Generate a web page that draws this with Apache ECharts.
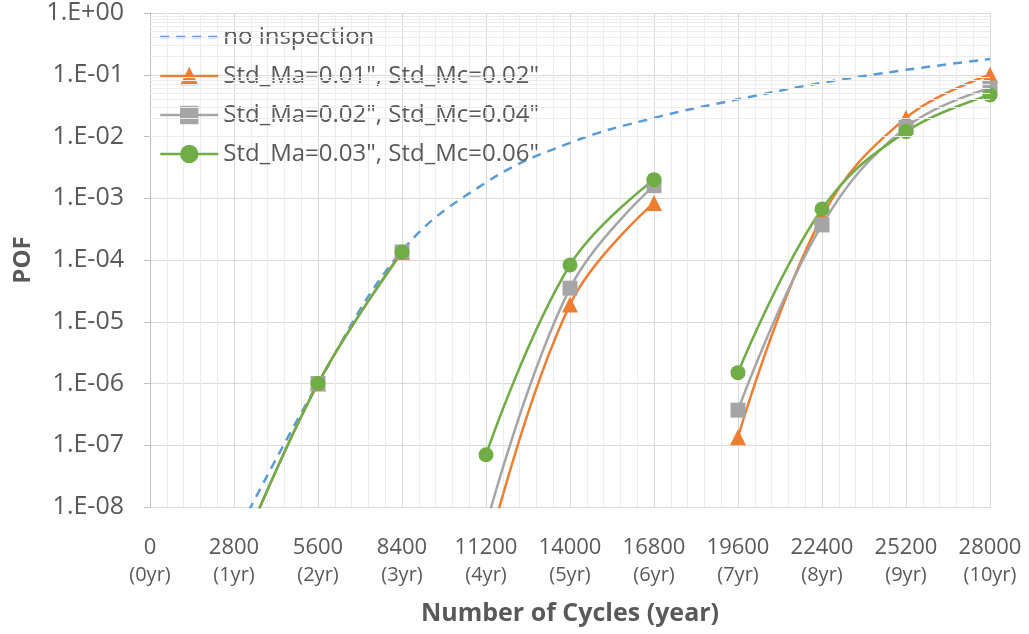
<!DOCTYPE html>
<html>
<head>
<meta charset="utf-8">
<script src="https://cdn.jsdelivr.net/npm/echarts@6/dist/echarts.min.js"></script>
<style>html,body{margin:0;padding:0;background:#fff;}#c{width:1029px;height:634px;}</style>
</head>
<body>
<div id="c"></div>
<script>
const cycles = [0, 2800, 5600, 8400, 11200, 14000, 16800, 19600, 22400, 25200, 28000];
const yearLabels = ['(0yr)', '(1yr)', '(2yr)', '(3yr)', '(4yr)', '(5yr)', '(6yr)', '(7yr)', '(8yr)', '(9yr)', '(10yr)'];
const seriesNames = ['no inspection', 'Std_Ma=0.01", Std_Mc=0.02"', 'Std_Ma=0.02", Std_Mc=0.04"', 'Std_Ma=0.03", Std_Mc=0.06"'];
const noInspection = [null, 3e-9, 1.0e-6, 1.4e-4, 1.8e-3, 7.9e-3, 2.0e-2, 4.0e-2, 7.4e-2, 1.2e-1, 1.8e-1];
const std001 = [null, 1e-9, 1.0e-6, 1.35e-4, 1.5e-9, 1.9e-5, 8.4e-4, 1.35e-7, 5.0e-4, 2.0e-2, 1.0e-1];
const std002 = [null, 1e-9, 1.0e-6, 1.35e-4, 5e-9, 3.5e-5, 1.6e-3, 3.7e-7, 3.7e-4, 1.4e-2, 6.1e-2];
const std003 = [null, 1e-9, 1.0e-6, 1.35e-4, 7e-8, 8.3e-5, 2.0e-3, 1.5e-6, 6.7e-4, 1.2e-2, 4.7e-2];
const inspectionBreaksAfter = [8400, 16800];
const minorLogValues = [];
for (let e = -8; e < 0; e++) { for (let m = 2; m <= 9; m++) minorLogValues.push(m * Math.pow(10, e)); }

function build(vals, breaks) {
  const out = [];
  cycles.forEach((c, i) => {
    if (vals[i] == null) return;
    out.push([c, vals[i]]);
    if (breaks.includes(c)) out.push([c + 1400, '-']);
  });
  return out;
}

const FONT = '"Open Sans", sans-serif';
const TXT = '#595959';
const chart = echarts.init(document.getElementById('c'));
chart.setOption({
  animation: false,
  backgroundColor: '#fff',
  grid: { left: 150, right: 39, top: 13, bottom: 127 },
  legend: {
    orient: 'vertical', left: 154, top: 20,
    itemWidth: 58, itemHeight: 23, itemGap: 15,
    lineStyle: { width: 2.5 },
    textStyle: { fontFamily: FONT, fontSize: 24, color: TXT },
    data: [
      { name: seriesNames[0], itemStyle: { color: 'rgba(0,0,0,0)', opacity: 0 }, lineStyle: { width: 2.5, type: [9, 7] } },
      seriesNames[1], seriesNames[2], seriesNames[3]
    ]
  },
  xAxis: {
    type: 'value', min: 0, max: 28000, interval: 2800,
    name: 'Number of Cycles (year)', nameLocation: 'middle', nameGap: 94,
    nameTextStyle: { fontFamily: FONT, fontSize: 25, fontWeight: 'bold', color: TXT },
    axisLine: { show: true, lineStyle: { color: '#d9d9d9' } },
    axisTick: { show: false },
    axisLabel: {
      margin: 27, fontFamily: FONT, fontSize: 22, color: TXT,
      formatter: function (v) { const i = Math.round(v / 2800); return '{a|' + v + '}\n{b|' + yearLabels[i] + '}'; },
      rich: { a: { fontFamily: FONT, fontSize: 22, color: TXT, lineHeight: 28 }, b: { fontFamily: FONT, fontSize: 20, color: TXT, lineHeight: 26 } }
    },
    splitLine: { show: true, lineStyle: { color: '#d9d9d9' } },
    minorTick: { show: false, splitNumber: 5 },
    minorSplitLine: { show: true, lineStyle: { color: '#ececec' } }
  },
  yAxis: {
    type: 'log', logBase: 10, min: 1e-8, max: 1, interval: 1, splitNumber: 8,
    name: 'POF', nameLocation: 'middle', nameGap: 108,
    nameTextStyle: { fontFamily: FONT, fontSize: 24, fontWeight: 'bold', color: TXT },
    axisLine: { show: true, lineStyle: { color: '#bfbfbf' } },
    axisTick: { show: true, length: 6, lineStyle: { color: '#bfbfbf' } },
    axisLabel: {
      margin: 26, fontFamily: FONT, fontSize: 25, color: TXT,
      formatter: function (v) { const e = Math.round(Math.log10(v)); const s = e < 0 ? '-' : '+'; const a = Math.abs(e); return '1.E' + s + (a < 10 ? '0' : '') + a; }
    },
    splitLine: { show: true, lineStyle: { color: '#d9d9d9' } }
  },
  series: [
    {
      type: 'line', name: '_minor', data: [], silent: true, z: 0,
      markLine: {
        silent: true, symbol: ['none', 'none'], label: { show: false },
        lineStyle: { color: '#ececec', width: 1, type: 'solid' },
        emphasis: { disabled: true },
        data: minorLogValues.map(v => ({ yAxis: v }))
      }
    },
    {
      type: 'line', name: seriesNames[0], data: build(noInspection, []), smooth: 0.4,
      showSymbol: false, symbol: 'none', clip: true,
      lineStyle: { color: '#5B9BD5', width: 2.5, type: [9, 7] }, itemStyle: { color: '#5B9BD5' }
    },
    {
      type: 'line', name: seriesNames[1], data: build(std001, inspectionBreaksAfter), smooth: 0.4,
      symbol: 'triangle', symbolSize: 16, clip: true,
      lineStyle: { color: '#ED7D31', width: 2.5 }, itemStyle: { color: '#ED7D31' }
    },
    {
      type: 'line', name: seriesNames[2], data: build(std002, inspectionBreaksAfter), smooth: 0.4,
      symbol: 'rect', symbolSize: 15, clip: true,
      lineStyle: { color: '#A5A5A5', width: 2.5 }, itemStyle: { color: '#A5A5A5' }
    },
    {
      type: 'line', name: seriesNames[3], data: build(std003, inspectionBreaksAfter), smooth: 0.4,
      symbol: 'circle', symbolSize: 15, clip: true,
      lineStyle: { color: '#70AD47', width: 2.5 }, itemStyle: { color: '#70AD47' }
    }
  ]
});
</script>
</body>
</html>
